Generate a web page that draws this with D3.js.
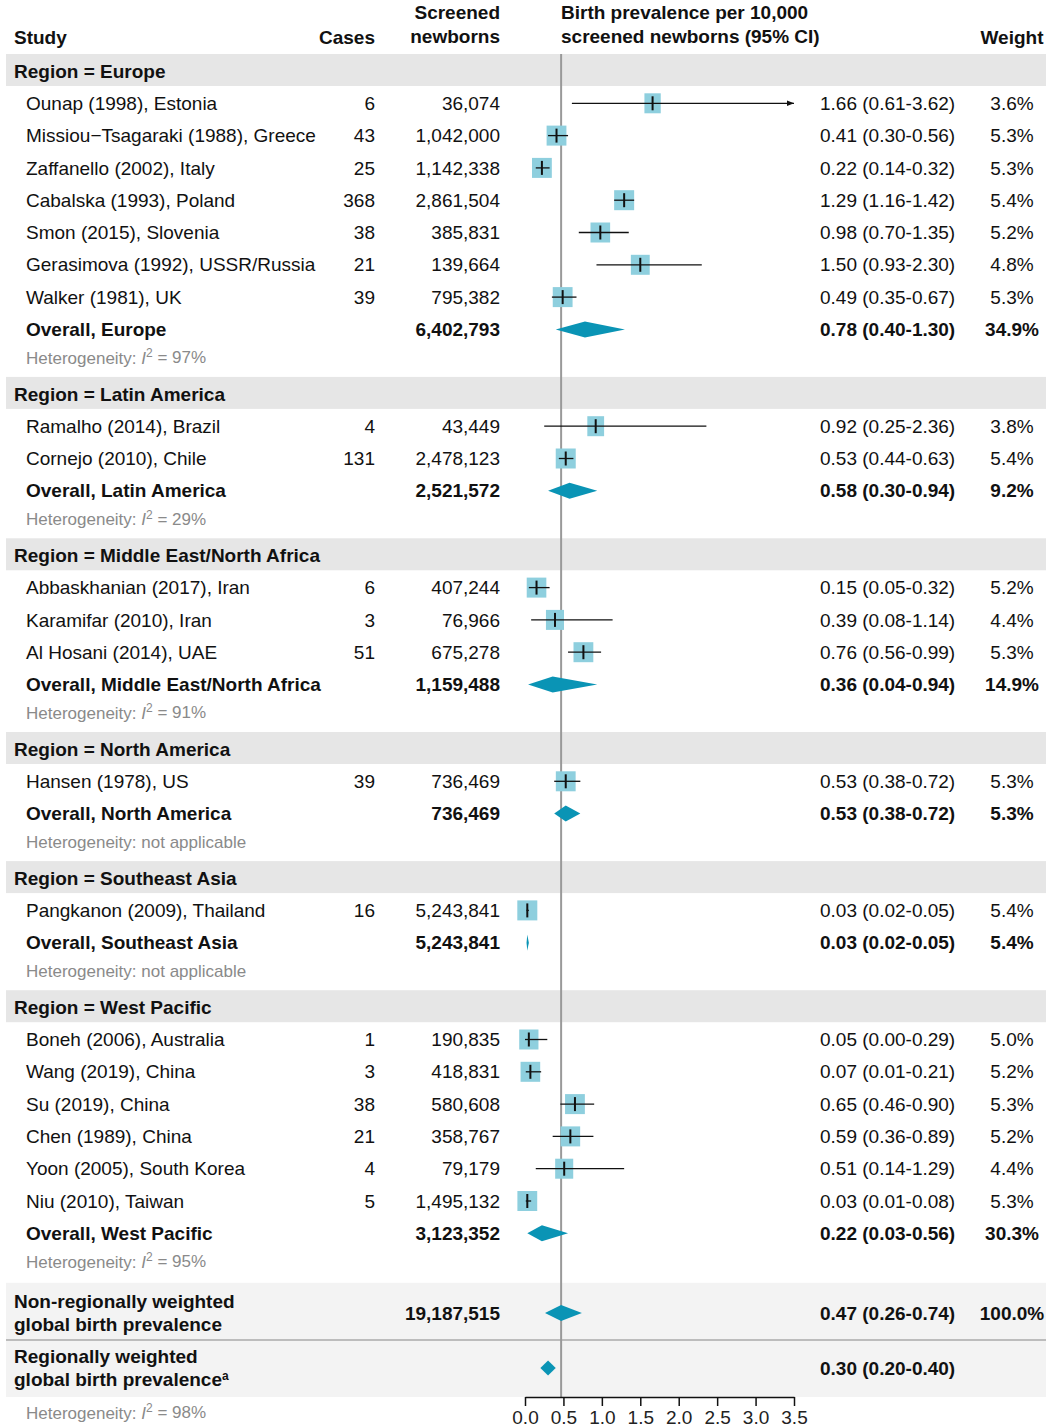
<!DOCTYPE html>
<html>
<head>
<meta charset="utf-8">
<script src="https://cdn.jsdelivr.net/npm/d3@7"></script>
<style>
  html, body { margin: 0; padding: 0; background: #fff; }
  svg { display: block; font-family: "Liberation Sans", Arial, Helvetica, sans-serif; }
</style>
</head>
<body>
<svg id="chart" width="1048" height="1427"></svg>
<script>
// ---- Study-level data ----
const regionNames = ["Europe", "Latin America", "Middle East/North Africa", "North America", "Southeast Asia", "West Pacific"];

const studyLabels = [
  "Ounap (1998), Estonia", "Missiou\u2212Tsagaraki (1988), Greece", "Zaffanello (2002), Italy",
  "Cabalska (1993), Poland", "Smon (2015), Slovenia", "Gerasimova (1992), USSR/Russia", "Walker (1981), UK",
  "Ramalho (2014), Brazil", "Cornejo (2010), Chile",
  "Abbaskhanian (2017), Iran", "Karamifar (2010), Iran", "Al Hosani (2014), UAE",
  "Hansen (1978), US",
  "Pangkanon (2009), Thailand",
  "Boneh (2006), Australia", "Wang (2019), China", "Su (2019), China", "Chen (1989), China",
  "Yoon (2005), South Korea", "Niu (2010), Taiwan"
];
const studyRegion = [0, 0, 0, 0, 0, 0, 0, 1, 1, 2, 2, 2, 3, 4, 5, 5, 5, 5, 5, 5];
const studyCases = [6, 43, 25, 368, 38, 21, 39, 4, 131, 6, 3, 51, 39, 16, 1, 3, 38, 21, 4, 5];
const studyScreened = [36074, 1042000, 1142338, 2861504, 385831, 139664, 795382, 43449, 2478123,
  407244, 76966, 675278, 736469, 5243841, 190835, 418831, 580608, 358767, 79179, 1495132];
const studyPrev = [1.66, 0.41, 0.22, 1.29, 0.98, 1.50, 0.49, 0.92, 0.53, 0.15, 0.39, 0.76, 0.53, 0.03,
  0.05, 0.07, 0.65, 0.59, 0.51, 0.03];
const studyLow = [0.61, 0.30, 0.14, 1.16, 0.70, 0.93, 0.35, 0.25, 0.44, 0.05, 0.08, 0.56, 0.38, 0.02,
  0.00, 0.01, 0.46, 0.36, 0.14, 0.01];
const studyHigh = [3.62, 0.56, 0.32, 1.42, 1.35, 2.30, 0.67, 2.36, 0.63, 0.32, 1.14, 0.99, 0.72, 0.05,
  0.29, 0.21, 0.90, 0.89, 1.29, 0.08];
const studyWeight = [3.6, 5.3, 5.3, 5.4, 5.2, 4.8, 5.3, 3.8, 5.4, 5.2, 4.4, 5.3, 5.3, 5.4,
  5.0, 5.2, 5.3, 5.2, 4.4, 5.3];

// ---- Regional pooled estimates ----
const regionScreened = [6402793, 2521572, 1159488, 736469, 5243841, 3123352];
const regionPrev = [0.78, 0.58, 0.36, 0.53, 0.03, 0.22];
const regionLow = [0.40, 0.30, 0.04, 0.38, 0.02, 0.03];
const regionHigh = [1.30, 0.94, 0.94, 0.72, 0.05, 0.56];
const regionWeight = [34.9, 9.2, 14.9, 5.3, 5.4, 30.3];
const regionI2 = [97, 29, 91, null, null, 95];

// ---- Global estimates ----
const globalScreened = 19187515;
const globalPrev = [0.47, 0.30];      // non-regionally weighted, regionally weighted
const globalLow = [0.26, 0.20];
const globalHigh = [0.74, 0.40];
const globalWeight = 100.0;
const globalI2 = 98;

// ---- Axis ----
const axisTicks = [0, 0.5, 1.0, 1.5, 2.0, 2.5, 3.0, 3.5];

// ---- Layout / style ----
const W = 1048, H = 1427;
const FONT = 19, HET_FONT = 17;
const colStudy = 14, colIndent = 26, colCases = 375, colScreened = 500, colCI = 820, colWeight = 1012;
const boxFill = "#8ecfde", diamondFill = "#0a94b5";
const bandFill = "#e6e6e6", globalBand = "#f3f3f3";
const textColor = "#111", hetColor = "#8a8a8a";

const svg = d3.select("#chart");
svg.append("rect").attr("width", W).attr("height", H).attr("fill", "#fff");

const x = d3.scaleLinear().domain([0, 3.5]).range([525, 794]);
const fmtInt = d3.format(",");
const fmt2 = d3.format(".2f");
const fmt1 = d3.format(".1f");

// Build the row sequence
const rows = [];
regionNames.forEach((r, ri) => {
  rows.push({ type: "header", region: ri });
  studyLabels.forEach((s, si) => { if (studyRegion[si] === ri) rows.push({ type: "study", idx: si }); });
  rows.push({ type: "overall", region: ri });
  rows.push({ type: "het", region: ri });
});
// Vertical spacing: heterogeneity lines sit closer, region headers get extra air
const stepNormal = 32.3, stepHet = 28.5, stepHeader = 36;
let cursor = 71;
rows.forEach((r, i) => {
  if (i > 0) cursor += r.type === "het" ? stepHet : r.type === "header" ? stepHeader : stepNormal;
  r.y = cursor;
});

const gBands = svg.append("g");
const gRef = svg.append("g");
const gText = svg.append("g").attr("fill", textColor).attr("font-size", FONT);
const gMarks = svg.append("g");

// Column headers
function hText(t, xx, yy, anchor) {
  gText.append("text").attr("x", xx).attr("y", yy).attr("dy", "0.35em")
    .attr("text-anchor", anchor).attr("font-weight", "bold").text(t);
}
hText("Study", colStudy, 37, "start");
hText("Cases", colCases, 37, "end");
hText("Screened", colScreened, 12, "end");
hText("newborns", colScreened, 36, "end");
hText("Birth prevalence per 10,000", 561, 12, "start");
hText("screened newborns (95% CI)", 561, 36, "start");
hText("Weight", colWeight, 37, "middle");

function cell(t, xx, yy, anchor, bold) {
  gText.append("text").attr("x", xx).attr("y", yy).attr("dy", "0.35em")
    .attr("text-anchor", anchor).attr("font-weight", bold ? "bold" : "normal").text(t);
}
function hetText(val, yy) {
  const t = gText.append("text").attr("x", colIndent).attr("y", yy).attr("dy", "0.35em")
    .attr("font-size", HET_FONT).attr("fill", hetColor);
  if (val === null) {
    t.text("Heterogeneity: not applicable");
  } else {
    t.append("tspan").text("Heterogeneity: ");
    t.append("tspan").attr("font-style", "italic").text("I");
    t.append("tspan").attr("font-size", 12).attr("dy", "-0.55em").text("2");
    t.append("tspan").attr("dy", "0.35em").text(" = " + val + "%");
  }
}
function ciLabel(e, l, h) { return fmt2(e) + " (" + fmt2(l) + "-" + fmt2(h) + ")"; }
function diamond(e, l, h, yy, half) {
  gMarks.append("path")
    .attr("d", `M${x(l)},${yy} L${x(e)},${yy - half} L${x(h)},${yy} L${x(e)},${yy + half} Z`)
    .attr("fill", diamondFill);
}

// Arrow marker for truncated intervals
svg.append("defs").append("marker").attr("id", "arrow")
  .attr("viewBox", "0 0 10 10").attr("refX", 10).attr("refY", 5)
  .attr("markerWidth", 8).attr("markerHeight", 7).attr("markerUnits", "userSpaceOnUse")
  .attr("orient", "auto")
  .append("path").attr("d", "M0,1 L10,5 L0,9 Z").attr("fill", "#111");

rows.forEach(r => {
  const yy = r.y;
  if (r.type === "header") {
    gBands.append("rect").attr("x", 6).attr("y", yy - 17).attr("width", 1040).attr("height", 32)
      .attr("fill", bandFill);
    cell("Region = " + regionNames[r.region], colStudy, yy, "start", true);
  } else if (r.type === "study") {
    const k = r.idx;
    cell(studyLabels[k], colIndent, yy, "start", false);
    cell(String(studyCases[k]), colCases, yy, "end", false);
    cell(fmtInt(studyScreened[k]), colScreened, yy, "end", false);
    cell(ciLabel(studyPrev[k], studyLow[k], studyHigh[k]), colCI, yy, "start", false);
    cell(fmt1(studyWeight[k]) + "%", colWeight, yy, "middle", false);
    const bw = 20 * Math.sqrt(studyWeight[k] / 5.4), bh = 20;
    gMarks.append("rect").attr("x", x(studyPrev[k]) - bw / 2).attr("y", yy - bh / 2)
      .attr("width", bw).attr("height", bh).attr("fill", boxFill);
    const hiClip = Math.min(studyHigh[k], 3.5);
    const ln = gMarks.append("line").attr("x1", x(studyLow[k])).attr("x2", x(hiClip))
      .attr("y1", yy).attr("y2", yy).attr("stroke", "#111").attr("stroke-width", 1.3);
    if (studyHigh[k] > 3.5) ln.attr("marker-end", "url(#arrow)");
    gMarks.append("line").attr("x1", x(studyPrev[k])).attr("x2", x(studyPrev[k]))
      .attr("y1", yy - 7).attr("y2", yy + 7).attr("stroke", "#111").attr("stroke-width", 2);
  } else if (r.type === "overall") {
    const k = r.region;
    cell("Overall, " + regionNames[k], colIndent, yy, "start", true);
    cell(fmtInt(regionScreened[k]), colScreened, yy, "end", true);
    cell(ciLabel(regionPrev[k], regionLow[k], regionHigh[k]), colCI, yy, "start", true);
    cell(fmt1(regionWeight[k]) + "%", colWeight, yy, "middle", true);
    diamond(regionPrev[k], regionLow[k], regionHigh[k], yy, 8);
  } else {
    hetText(regionI2[r.region], yy);
  }
});

// Global rows
const gTop = rows[rows.length - 1].y + 21;
gBands.append("rect").attr("x", 6).attr("y", gTop).attr("width", 1040).attr("height", 1397 - gTop).attr("fill", globalBand);
gBands.append("line").attr("x1", 6).attr("x2", 1046).attr("y1", 1340).attr("y2", 1340)
  .attr("stroke", "#aaa").attr("stroke-width", 1.5);

const yNon = 1313, yReg = 1368;
function twoLine(a, b, yy, sup) {
  const t = gText.append("text").attr("x", colStudy).attr("y", yy - 11.5).attr("dy", "0.35em").attr("font-weight", "bold");
  t.text(a);
  const t2 = gText.append("text").attr("x", colStudy).attr("y", yy + 11.5).attr("dy", "0.35em").attr("font-weight", "bold");
  t2.append("tspan").text(b);
  if (sup) t2.append("tspan").attr("font-size", 12).attr("dy", "-0.5em").text(sup);
}
twoLine("Non-regionally weighted", "global birth prevalence", yNon, null);
cell(fmtInt(globalScreened), colScreened, yNon, "end", true);
cell(ciLabel(globalPrev[0], globalLow[0], globalHigh[0]), colCI, yNon, "start", true);
cell(fmt1(globalWeight) + "%", colWeight, yNon, "middle", true);
diamond(globalPrev[0], globalLow[0], globalHigh[0], yNon, 8);

twoLine("Regionally weighted", "global birth prevalence", yReg, "a");
cell(ciLabel(globalPrev[1], globalLow[1], globalHigh[1]), colCI, yReg, "start", true);
diamond(globalPrev[1], globalLow[1], globalHigh[1], yReg, 7.5);

hetText(globalI2, 1413);

// Reference line at the non-regionally weighted pooled estimate
gRef.append("line")
  .attr("x1", x(globalPrev[0])).attr("x2", x(globalPrev[0]))
  .attr("y1", 54).attr("y2", 1397).attr("stroke", "#999").attr("stroke-width", 2);

// Bottom axis
const axis = d3.axisBottom(x).tickValues(axisTicks).tickFormat(d3.format(".1f")).tickSize(9).tickSizeOuter(0);
const gAxis = svg.append("g").attr("transform", "translate(0,1397)").call(axis);
gAxis.select(".domain").attr("stroke", "#111").attr("stroke-width", 1.5);
gAxis.selectAll(".tick line").attr("stroke", "#111").attr("stroke-width", 1.5);
gAxis.selectAll(".tick text").attr("font-size", FONT).attr("font-family", "Liberation Sans, Arial, sans-serif")
  .attr("fill", "#222").attr("y", 14);
</script>
</body>
</html>
